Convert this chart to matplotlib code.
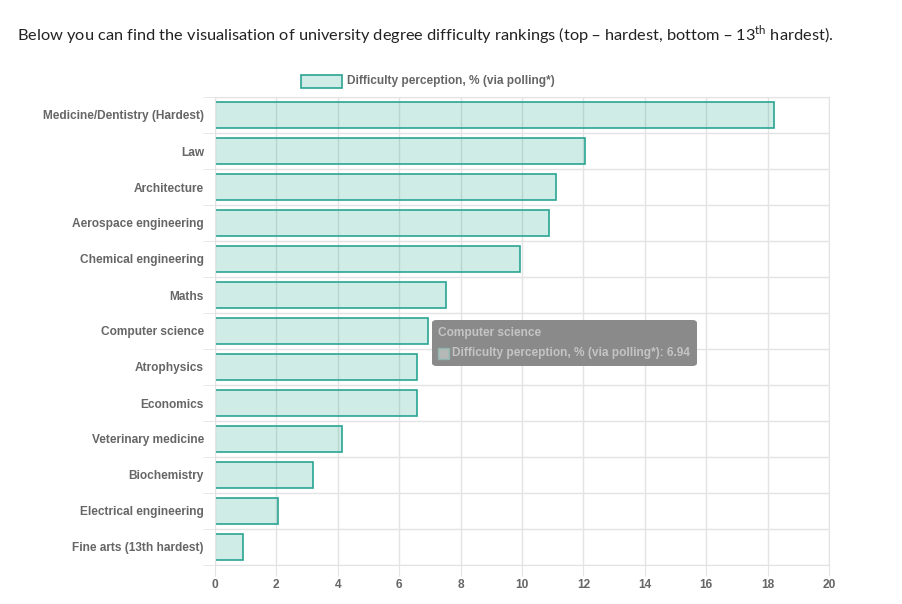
import numpy as np
import matplotlib
matplotlib.use('Agg')
import matplotlib.pyplot as plt
from matplotlib.patches import Rectangle, FancyBboxPatch

degrees = ['Medicine/Dentistry (Hardest)', 'Law', 'Architecture', 'Aerospace engineering',
           'Chemical engineering', 'Maths', 'Computer science', 'Atrophysics', 'Economics',
           'Veterinary medicine', 'Biochemistry', 'Electrical engineering', 'Fine arts (13th hardest)']
difficulty = [18.2, 12.05, 11.1, 10.88, 9.93, 7.52, 6.94, 6.58, 6.58, 4.14, 3.19, 2.05, 0.91]
x_ticks = [0, 2, 4, 6, 8, 10, 12, 14, 16, 18, 20]
series_name = 'Difficulty perception, % (via polling*)'
tooltip_idx = 6  # computer science is hovered in the original

fill = (22/255, 160/255, 133/255, 0.2)
edge = '#2aa593'
grid_c = '#e3e3e3'
lab_c = '#666666'
fs = 8.6

W, H = 903, 604
fig = plt.figure(figsize=(W/100, H/100), dpi=100)
ax = fig.add_axes([215/W, 1-565/H, 614/W, 468/H])

n = len(degrees)
ypos = np.arange(n)
ax.barh(ypos, difficulty, height=0.72, color=fill, edgecolor=edge, linewidth=1.2, zorder=2)
ax.set_ylim(n-0.5, -0.5)
ax.set_xlim(0, 20)

ax.set_xticks(x_ticks)
ax.set_xticklabels([str(t) for t in x_ticks], fontfamily='Liberation Sans', fontweight='bold',
                   fontsize=fs, color=lab_c)
ax.set_yticks(ypos)
ax.set_yticklabels(degrees, fontfamily='Liberation Sans', fontweight='bold', fontsize=fs, color=lab_c)
ax.tick_params(axis='y', which='major', length=0, pad=8)
ax.tick_params(axis='x', which='major', length=8, color=grid_c, pad=2)
ax.set_yticks(np.arange(-0.5, n, 1), minor=True)
ax.tick_params(axis='y', which='minor', length=9, color=grid_c)
ax.grid(axis='x', which='major', color=grid_c, linewidth=1, zorder=0)
ax.grid(axis='y', which='minor', color=grid_c, linewidth=1, zorder=0)
ax.set_axisbelow(True)
for s in ax.spines.values():
    s.set_color(grid_c)

# title text above the chart
fig.text(17/W, 1-35/H, 'Below you can find the visualisation of university degree difficulty rankings '
         '(top \u2013 hardest, bottom \u2013 13$^{\\mathregular{th}}$ hardest).',
         fontfamily='Lato', fontsize=11.8, color='#222222', va='center', ha='left')

# legend box + label
fig.patches.append(Rectangle((301/W, 1-88/H), 41/W, 13/H, transform=fig.transFigure,
                             facecolor=fill, edgecolor=edge, linewidth=1.2))
fig.text(347/W, 1-81/H, series_name, fontfamily='Liberation Sans', fontweight='bold',
         fontsize=fs, color=lab_c, va='center', ha='left')

# tooltip on the hovered bar
tx0, ty0, tw, th = 432, 320, 265, 46
fig.patches.append(FancyBboxPatch((tx0/W, 1-(ty0+th)/H), tw/W, th/H, transform=fig.transFigure,
                                  boxstyle='round,pad=0,rounding_size=0.005',
                                  facecolor='#8a8a8a', edgecolor='none'))
fig.text(438/W, 1-333/H, degrees[tooltip_idx], fontfamily='Liberation Sans', fontweight='bold',
         fontsize=fs, color='#c4c4c4', va='center', ha='left')
fig.patches.append(Rectangle((438/W, 1-359/H), 11/W, 11/H, transform=fig.transFigure,
                             facecolor='#b4b9b8', edgecolor='#8fb5af', linewidth=1))
fig.text(452/W, 1-353/H, '%s: %.2f' % (series_name, difficulty[tooltip_idx]),
         fontfamily='Liberation Sans', fontweight='bold', fontsize=fs, color='#c4c4c4',
         va='center', ha='left')

fig.savefig('out.png', dpi=100, facecolor='white')
